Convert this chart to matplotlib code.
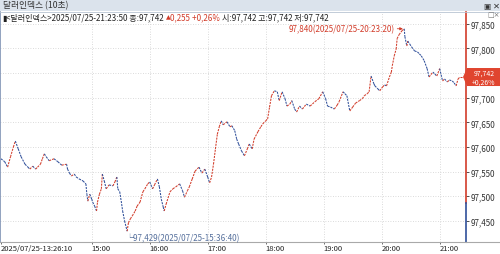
import matplotlib
matplotlib.use("Agg")
import matplotlib.pyplot as plt
import matplotlib.dates as mdates
import numpy as np
import pandas as pd
from matplotlib.collections import LineCollection
from matplotlib.patches import Rectangle, Polygon
from matplotlib.lines import Line2D
from matplotlib.transforms import blended_transform_factory
from matplotlib.ticker import FuncFormatter, FixedLocator

# --- data (10-second dollar index, 2025/07/25) ---
times = ["13:26:10", "13:30", "13:33", "13:36", "13:39", "13:41", "13:44", "13:47", "13:51", "13:54",
         "13:56", "13:59", "14:02", "14:04", "14:07", "14:09", "14:11", "14:13", "14:16", "14:21",
         "14:25", "14:29", "14:34", "14:35", "14:37", "14:39", "14:42", "14:44", "14:47", "14:51",
         "14:54", "14:55", "14:56", "14:58", "15:00", "15:01", "15:03", "15:05", "15:06", "15:08",
         "15:10", "15:11", "15:13", "15:15", "15:18", "15:22", "15:24", "15:26", "15:27", "15:29",
         "15:31", "15:32", "15:34", "15:36:40", "15:38", "15:40", "15:42", "15:45", "15:47", "15:50",
         "15:53", "15:55", "15:58", "16:00", "16:03", "16:05", "16:08", "16:10", "16:12", "16:14",
         "16:15", "16:17", "16:21", "16:24", "16:27", "16:31", "16:34", "16:36", "16:39", "16:41",
         "16:44", "16:47", "16:51", "16:54", "16:57", "17:00", "17:02", "17:04", "17:06", "17:08",
         "17:10", "17:12", "17:14", "17:16", "17:20", "17:23", "17:25", "17:28", "17:30", "17:32",
         "17:35", "17:38", "17:41", "17:43", "17:46", "17:48", "17:52", "17:55", "17:57", "18:00",
         "18:02", "18:04", "18:06", "18:09", "18:12", "18:14", "18:17", "18:20", "18:22", "18:25",
         "18:27", "18:30", "18:32", "18:35", "18:38", "18:42", "18:46", "18:51", "18:55", "18:59",
         "19:02", "19:04", "19:07", "19:11", "19:14", "19:16", "19:20", "19:22", "19:24", "19:27",
         "19:30", "19:33", "19:37", "19:40", "19:42", "19:45", "19:47", "19:49", "19:52", "19:53",
         "19:56", "19:58", "20:01", "20:03", "20:05", "20:08", "20:10", "20:11", "20:13", "20:15",
         "20:16", "20:18", "20:21", "20:23:20", "20:24", "20:26", "20:27", "20:29", "20:31", "20:34",
         "20:37", "20:39", "20:41", "20:44", "20:47", "20:49", "20:53", "20:55", "20:57", "21:00",
         "21:03", "21:05", "21:08", "21:10", "21:13", "21:15", "21:17", "21:19", "21:21", "21:23:50"]
values = [97.576, 97.570, 97.559, 97.580, 97.600, 97.612, 97.596, 97.580, 97.565, 97.559,
          97.555, 97.561, 97.555, 97.559, 97.565, 97.576, 97.586, 97.580, 97.572, 97.576,
          97.570, 97.563, 97.565, 97.555, 97.547, 97.541, 97.545, 97.539, 97.535, 97.531,
          97.525, 97.504, 97.490, 97.504, 97.494, 97.488, 97.480, 97.470, 97.488, 97.504,
          97.515, 97.545, 97.531, 97.515, 97.523, 97.521, 97.529, 97.539, 97.515, 97.509,
          97.484, 97.470, 97.450, 97.429, 97.446, 97.454, 97.460, 97.470, 97.480, 97.488,
          97.509, 97.515, 97.525, 97.529, 97.515, 97.523, 97.535, 97.519, 97.494, 97.478,
          97.470, 97.484, 97.509, 97.515, 97.519, 97.525, 97.511, 97.498, 97.511, 97.519,
          97.535, 97.551, 97.559, 97.547, 97.555, 97.539, 97.527, 97.539, 97.565, 97.596,
          97.626, 97.641, 97.653, 97.645, 97.651, 97.641, 97.643, 97.633, 97.616, 97.606,
          97.592, 97.582, 97.596, 97.606, 97.596, 97.616, 97.631, 97.641, 97.647, 97.653,
          97.657, 97.681, 97.704, 97.714, 97.712, 97.694, 97.712, 97.698, 97.683, 97.687,
          97.694, 97.677, 97.671, 97.683, 97.677, 97.687, 97.683, 97.692, 97.698, 97.712,
          97.698, 97.683, 97.681, 97.677, 97.685, 97.692, 97.712, 97.708, 97.704, 97.673,
          97.681, 97.689, 97.694, 97.698, 97.704, 97.708, 97.712, 97.744, 97.728, 97.724,
          97.718, 97.714, 97.722, 97.726, 97.724, 97.742, 97.752, 97.765, 97.785, 97.799,
          97.820, 97.828, 97.836, 97.840, 97.824, 97.805, 97.815, 97.809, 97.803, 97.795,
          97.793, 97.789, 97.785, 97.775, 97.759, 97.742, 97.752, 97.748, 97.744, 97.759,
          97.734, 97.738, 97.732, 97.736, 97.734, 97.730, 97.724, 97.738, 97.742, 97.742]

prev_close = 97.487
last_value = 97.742
change = 0.255
change_pct = 0.26
hi_time, hi_value = "20:23:20", 97.840
lo_time, lo_value = "15:36:40", 97.429
y_ticks = [97.45, 97.50, 97.55, 97.60, 97.65, 97.70, 97.75, 97.80, 97.85]
hour_ticks = ["15:00", "16:00", "17:00", "18:00", "19:00", "20:00", "21:00"]
day = "2025-07-25"

RED = "#d23c2a"
BLUE = "#2f4f9a"
NARROW = ["Liberation Sans Narrow", "Noto Sans CJK KR", "DejaVu Sans"]
KR = ["Noto Sans CJK KR", "DejaVu Sans"]


def fmt_num(v, nd=3):
    return f"{v:.{nd}f}".replace(".", ",")


def to_num(t):
    return mdates.date2num(pd.to_datetime(day + " " + t))


x = np.array([to_num(t) for t in times])
y = np.array(values)

W, H = 500, 255
fig = plt.figure(figsize=(W / 100, H / 100), dpi=100)
fig.patch.set_facecolor("white")

# title bar
fig.add_artist(Rectangle((0, 1 - 12 / H), 1, 12 / H, transform=fig.transFigure,
                         facecolor="#dbe3ec", edgecolor="none"))
fig.add_artist(Line2D([0, 1], [1 - 12.5 / H] * 2, transform=fig.transFigure, color="#b8c4d2", lw=0.6))
fig.text(3 / W, 1 - 6 / H, "달러인덱스 (10초)", family=KR, fontsize=6.3, color="#333333", va="center")
fig.text(487 / W, 1 - 6 / H, "▣", family=["DejaVu Sans"], fontsize=5.5, color="#333333", va="center", ha="center")
fig.text(496 / W, 1 - 6 / H, "✕", family=["DejaVu Sans"], fontsize=6, color="#333333", va="center", ha="center",
         weight="bold")

ax = fig.add_axes([0, 12 / H, 466 / W, 230 / H])
ax.set_facecolor("white")

t0 = x[0]
minute = 1 / 1440
ax.set_xlim(t0 - 1.03 * minute, x[-1] + 3.4 * minute)
ax.set_ylim(97.407, 97.874)

# grid
for v in y_ticks:
    ax.axhline(v, color="#cfcfcf", lw=0.6, ls=(0, (1, 2)), zorder=0)
for h in hour_ticks:
    ax.axvline(to_num(h), color="#cfcfcf", lw=0.6, ls=(0, (1, 2)), zorder=0)

# price line, red rising / blue falling
pts = np.column_stack([x, y])
segs = np.stack([pts[:-1], pts[1:]], axis=1)
cols = np.where(np.diff(y) >= 0, RED, BLUE)
lc = LineCollection(segs, colors=cols, linewidths=0.75, linestyles=[(0, (2.0, 1.0))])
ax.add_collection(lc)

# high / low labels
ax.annotate(f"{fmt_num(hi_value)}({day.replace('-', '/')}-{hi_time})",
            xy=(to_num(hi_time), hi_value), xytext=(-7, 0), textcoords="offset points",
            ha="right", va="center", fontsize=5.8, family=NARROW, color=RED,
            arrowprops=dict(arrowstyle="-|>", color=RED, lw=0.6, shrinkA=0, shrinkB=1, mutation_scale=4))
ax.annotate(f"└{fmt_num(lo_value)}({day.replace('-', '/')}-{lo_time})",
            xy=(to_num(lo_time), lo_value), xytext=(-1.5, -4.3), textcoords="offset points",
            ha="left", va="center", fontsize=5.8, family=NARROW, color="#56709c")

# spines / axes
for s in ["top", "right"]:
    ax.spines[s].set_visible(False)
ax.spines["left"].set_color("#7f92b4")
ax.spines["left"].set_linewidth(1.2)
ax.spines["bottom"].set_color("#a9a9a9")
ax.spines["bottom"].set_linewidth(0.8)

tr = blended_transform_factory(ax.transAxes, ax.transData)
ax.plot([1, 1], [prev_close, 97.874], transform=tr, color=RED, lw=1.2, clip_on=False)
ax.plot([1, 1], [97.407, prev_close], transform=tr, color=BLUE, lw=1.2, clip_on=False)
fig.add_artist(Line2D([466 / W, 1], [12 / H] * 2, transform=fig.transFigure, color="#a9a9a9", lw=0.8))

# the current-price tag hides the label nearest to the last value
hidden = min(y_ticks, key=lambda v: abs(v - last_value))
ax.yaxis.tick_right()
ax.yaxis.set_major_locator(FixedLocator(y_ticks))
ax.yaxis.set_major_formatter(FuncFormatter(lambda v, p: "" if abs(v - hidden) < 1e-9 else fmt_num(v)))
ax.tick_params(axis="y", length=2.5, width=0.6, color="#333333", pad=0.5, labelsize=5.8, labelcolor="#333333")
for lb in ax.get_yticklabels():
    lb.set_family(NARROW)

xt = [x[0]] + [to_num(h) for h in hour_ticks]
xl = [f"{day.replace('-', '/')}-{times[0]}"] + hour_ticks
ax.set_xticks(xt)
ax.set_xticklabels(xl)
ax.tick_params(axis="x", length=1.5, width=0.6, color="#555555", pad=0.3, labelsize=5.5, labelcolor="#222222")
for lb in ax.get_xticklabels():
    lb.set_family(NARROW)
    lb.set_ha("left")

# info line
fig.canvas.draw()
renderer = fig.canvas.get_renderer()
pieces = [("▮", "#222222", ["DejaVu Sans"]),
          (f"<달러인덱스>{day.replace('-', '/')}-{times[-1]} 종:{fmt_num(last_value)} ", "#222222", NARROW),
          (f"▲{fmt_num(change)} ", RED, NARROW),
          (f"+{fmt_num(change_pct, 2)}% ", RED, NARROW),
          (f"시:{fmt_num(last_value)} 고:{fmt_num(last_value)} 저:{fmt_num(last_value)}", "#222222", NARROW)]
xpos = 2.0
for txt, c, fam in pieces:
    if txt.startswith("▲"):
        tri = fig.text(xpos / W, 1 - 18 / H, "▲", family=["DejaVu Sans"], fontsize=4.5, color=c, va="center")
        xpos += tri.get_window_extent(renderer).width
        txt = txt[1:]
    t = fig.text(xpos / W, 1 - 18 / H, txt, family=fam, fontsize=5.8, color=c, va="center")
    xpos += t.get_window_extent(renderer).width

# small window icon in plot corner
fig.text(487 / W, 1 - 15 / H, "□×", family=["DejaVu Sans"], fontsize=5, color="#777777", va="center")

# current price tag
yd = ax.transData.transform((0, last_value))[1]
tag = Polygon([(463, yd), (467, yd + 9), (500, yd + 9), (500, yd - 9), (467, yd - 9)],
              closed=True, transform=None, facecolor="#e0452f", edgecolor="none", zorder=5)
fig.add_artist(tag)
fig.text(484 / W, (yd + 4.3) / H, fmt_num(last_value), family=NARROW, fontsize=5, color="white",
         ha="center", va="center", zorder=6)
fig.text(484 / W, (yd - 4.3) / H, f"+{fmt_num(change_pct, 2)}%", family=NARROW, fontsize=5, color="white",
         ha="center", va="center", zorder=6)

fig.savefig("out.png", dpi=100)
